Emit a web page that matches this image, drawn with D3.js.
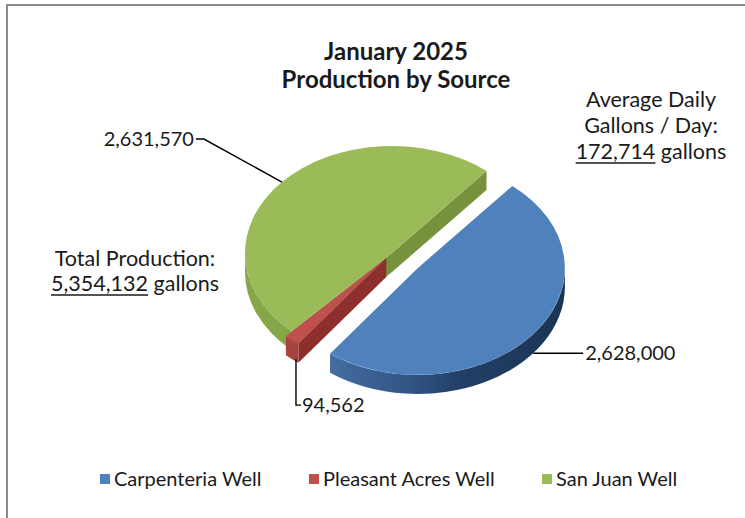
<!DOCTYPE html>
<html><head><meta charset="utf-8">
<script src="https://cdn.jsdelivr.net/npm/d3@7"></script>
<style>html,body{margin:0;padding:0;background:#fff;} svg{display:block;font-family:Lato,"Open Sans",sans-serif;}</style>
</head><body><svg id="c" width="745" height="518"></svg>
<script>
// ---- data ----
const categories = ["Carpenteria Well", "Pleasant Acres Well", "San Juan Well"];
const values = [2628000, 94562, 2631570];
const titleLines = ["January 2025", "Production by Source"];
const daysInMonth = 31;
const totalLines = ["Total Production:", "gallons"];
const avgLines = ["Average Daily", "Gallons / Day:", "gallons"];

// ---- style / layout ----
const topColors = ["#4F81BD", "#C0504D", "#9BBB59"];
const wallStops = [
  [["0", "#4A73A8"], ["0.35", "#34598A"], ["0.6", "#213F66"], ["1", "#1B3453"]],
  [["0", "#A84543"], ["1", "#8E302E"]],
  [["0", "#86A64A"], ["1", "#6B8834"]]
];
const cutColors = ["#2A4A75", "#8E2F2D", "#76923C"];
const explodeDist = [33, 9, 0];
const startDeg = 40;
const cx = 392, cy = 253, rx = 147, ry = 107, depth = 19;

const svg = d3.select("#c");
const fmt = d3.format(",");
const defs = svg.append("defs");

// frame
svg.append("rect").attr("x", 7).attr("y", 5).attr("width", 800).attr("height", 600)
  .attr("fill", "none").attr("stroke", "#8a8a8a").attr("stroke-width", 2);

const pie = d3.pie().sort(null).value(d => d)
  .startAngle(startDeg * Math.PI / 180).endAngle(startDeg * Math.PI / 180 + 2 * Math.PI);
const arcs = pie(values);

arcs.forEach((a, i) => {
  const mid = (a.startAngle + a.endAngle) / 2;
  a.off = [explodeDist[i] * Math.sin(mid), -explodeDist[i] * (ry / rx) * Math.cos(mid)];
  a.mid = mid;
});

function pt(t, o, h) {
  return [cx + o[0] + rx * Math.sin(t), cy + o[1] - ry * Math.cos(t) + h];
}
const P = p => p[0].toFixed(2) + "," + p[1].toFixed(2);

function topPath(a) {
  const c = [cx + a.off[0], cy + a.off[1]];
  const large = (a.endAngle - a.startAngle) > Math.PI ? 1 : 0;
  return `M${P(c)}L${P(pt(a.startAngle, a.off, 0))}A${rx},${ry} 0 ${large} 1 ${P(pt(a.endAngle, a.off, 0))}Z`;
}
function wallPath(s, e, o) {
  const large = (e - s) > Math.PI ? 1 : 0;
  return `M${P(pt(s, o, 0))}A${rx},${ry} 0 ${large} 1 ${P(pt(e, o, 0))}L${P(pt(e, o, depth))}A${rx},${ry} 0 ${large} 0 ${P(pt(s, o, depth))}Z`;
}
function cutPath(t, o) {
  const c0 = [cx + o[0], cy + o[1]], c1 = [c0[0], c0[1] + depth];
  return `M${P(c0)}L${P(pt(t, o, 0))}L${P(pt(t, o, depth))}L${P(c1)}Z`;
}

// gradients
arcs.forEach((a, i) => {
  const g = defs.append("linearGradient").attr("id", "w" + i)
    .attr("gradientUnits", "userSpaceOnUse")
    .attr("x1", cx + a.off[0] - rx * 0.75).attr("x2", cx + a.off[0] + rx).attr("y1", 0).attr("y2", 0);
  wallStops[i].forEach(s => g.append("stop").attr("offset", s[0]).attr("stop-color", s[1]));
});

// drawing order: green, red, blue
const order = [2, 1, 0];
const pieG = svg.append("g");
order.forEach(i => {
  const a = arcs[i];
  const g = pieG.append("g");
  if (Math.sin(a.startAngle) < 0) g.append("path").attr("d", cutPath(a.startAngle, a.off)).attr("fill", cutColors[i]);
  if (Math.sin(a.endAngle) > 0) g.append("path").attr("d", cutPath(a.endAngle, a.off)).attr("fill", cutColors[i]);
  for (let k = 0; k < 2; k++) {
    const lo = Math.PI / 2 + 2 * Math.PI * k, hi = 3 * Math.PI / 2 + 2 * Math.PI * k;
    const s = Math.max(a.startAngle, lo), e = Math.min(a.endAngle, hi);
    if (e > s) g.append("path").attr("d", wallPath(s, e, a.off)).attr("fill", `url(#w${i})`);
  }
  g.append("path").attr("d", topPath(a)).attr("fill", topColors[i]);
});

// ---- text helpers ----
function addText(x, y, str, opts = {}) {
  return svg.append("text").attr("x", x).attr("y", y).text(str)
    .attr("font-size", opts.size || 20).attr("fill", "#1a1a1a")
    .attr("font-weight", opts.bold ? "bold" : "normal")
    .attr("text-anchor", opts.anchor || "start");
}
function underlinedLine(cxText, y, num, rest, size) {
  const t = svg.append("text").attr("y", y).attr("font-size", size).attr("fill", "#1a1a1a");
  const n = t.append("tspan").text(num);
  t.append("tspan").text(" " + rest);
  const total = t.node().getComputedTextLength();
  const nw = n.node().getComputedTextLength();
  const x0 = cxText - total / 2;
  t.attr("x", x0);
  svg.append("line").attr("x1", x0).attr("x2", x0 + nw).attr("y1", y + 4).attr("y2", y + 4)
    .attr("stroke", "#1a1a1a").attr("stroke-width", 1.5);
}

// title
addText(396, 60, titleLines[0], {bold: true, size: 24, anchor: "middle"});
addText(396, 88, titleLines[1], {bold: true, size: 24, anchor: "middle"});

// annotations
const total = d3.sum(values);
const annSize = 21.5;
addText(651, 107, avgLines[0], {size: annSize, anchor: "middle"});
addText(651, 133, avgLines[1], {size: annSize, anchor: "middle"});
underlinedLine(651, 159, fmt(Math.round(total / daysInMonth)), avgLines[2], annSize);
addText(135, 266, totalLines[0], {size: annSize, anchor: "middle"});
underlinedLine(135, 291, fmt(total), totalLines[1], annSize);

// data labels with leader lines
const lblSize = 20;
function anchorPt(a, frac) { return pt(a.mid, a.off, depth * frac); }
// San Juan (green)
{
  const a = arcs[2], p = anchorPt(a, 0);
  const ly = p[1] - 43, lx = p[0] - 78;
  svg.append("polyline").attr("points", `${P(p)} ${lx},${ly} ${lx - 8},${ly}`)
    .attr("fill", "none").attr("stroke", "#000").attr("stroke-width", 1.4);
  addText(lx - 10, ly + 7, fmt(values[2]), {size: lblSize, anchor: "end"});
}
// Carpenteria (blue)
{
  const a = arcs[0], p = anchorPt(a, 1);
  svg.append("line").attr("x1", p[0]).attr("y1", p[1]).attr("x2", p[0] + 50).attr("y2", p[1])
    .attr("stroke", "#000").attr("stroke-width", 1.4);
  addText(p[0] + 52, p[1] + 7, fmt(values[0]), {size: lblSize});
}
// Pleasant Acres (red)
{
  const a = arcs[1], p = anchorPt(a, 1);
  const px = p[0] + 4;
  const by = p[1] + 46;
  svg.append("polyline").attr("points", `${px},${p[1]} ${px},${by} ${px + 5},${by}`)
    .attr("fill", "none").attr("stroke", "#000").attr("stroke-width", 1.4);
  addText(px + 6, by + 7, fmt(values[1]), {size: lblSize});
}

// legend
const legendX = [100, 309, 542];
categories.forEach((c, i) => {
  svg.append("rect").attr("x", legendX[i]).attr("y", 474).attr("width", 10).attr("height", 10).attr("fill", topColors[i]);
  addText(legendX[i] + 14, 486, c, {size: 20});
});
</script></body></html>
